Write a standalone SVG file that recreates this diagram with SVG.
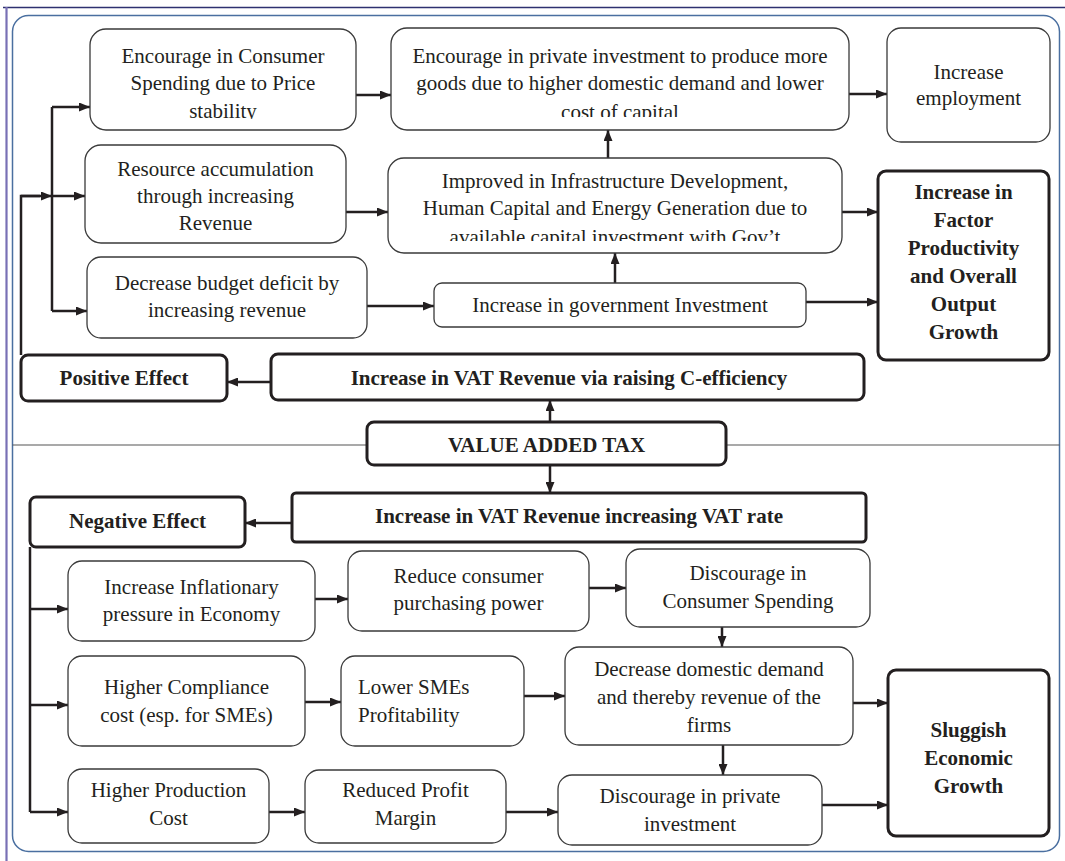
<svg xmlns="http://www.w3.org/2000/svg" width="1065" height="861" viewBox="0 0 1065 861">
<defs>
<marker id="ah" markerUnits="userSpaceOnUse" markerWidth="11" markerHeight="9" refX="11" refY="4.5" orient="auto">
<path d="M0,0 L11,4.5 L0,9 z" fill="#231f20"/>
</marker>
<clipPath id="clipA"><rect x="90" y="29" width="266" height="90"/></clipPath>
<clipPath id="clipB"><rect x="391" y="28" width="458" height="89"/></clipPath>
<clipPath id="clipE"><rect x="388" y="158" width="454" height="83"/></clipPath>
</defs>
<style>
.n{fill:#fff;stroke:#3a3a3a;stroke-width:1.3}
.b{fill:#fff;stroke:#231f20;stroke-width:3}
.t{font-family:"Liberation Serif","Times New Roman",serif;font-size:21px;fill:#231f20;text-anchor:middle}
.tb{font-family:"Liberation Serif","Times New Roman",serif;font-size:21px;font-weight:bold;fill:#231f20;text-anchor:middle}
.c{fill:none;stroke:#231f20;stroke-width:2.5}
.a{fill:none;stroke:#231f20;stroke-width:2.5;marker-end:url(#ah)}
</style>
<rect width="1065" height="861" fill="#fff"/>
<g id="frame">
<line x1="3" y1="7.5" x2="1065" y2="7.5" stroke="#2e3170" stroke-width="1.6"/>
<line x1="6.5" y1="7" x2="6.5" y2="861" stroke="#7870b5" stroke-width="2.2"/>
<rect x="12.5" y="15.5" width="1047" height="836" rx="16" fill="none" stroke="#4a6fa0" stroke-width="1.5"/>
<line x1="12.5" y1="445" x2="367" y2="445" stroke="#555" stroke-width="1.2"/>
<line x1="726" y1="445" x2="1059.5" y2="445" stroke="#555" stroke-width="1.2"/>
</g>
<g id="connectors">
<path class="c" d="M21,355 V196 H40"/>
<path class="a" d="M21,196 H52"/>
<path class="c" d="M52,107 V311"/>
<path class="a" d="M52,107 H90"/>
<path class="a" d="M52,196 H85"/>
<path class="a" d="M52,311 H87"/>
<path class="a" d="M356,95 H391"/>
<path class="a" d="M849,94 H887"/>
<path class="a" d="M608,158 V130"/>
<path class="a" d="M346,212 H388"/>
<path class="a" d="M842,212 H878"/>
<path class="a" d="M615,283 V253"/>
<path class="a" d="M367,306 H434"/>
<path class="a" d="M806,302 H878"/>
<path class="a" d="M271,382 H227"/>
<path class="a" d="M550,422 V400"/>
<path class="a" d="M550,465 V493"/>
<path class="a" d="M292,523 H245"/>
<path class="c" d="M30,547 V812"/>
<path class="a" d="M30,609 H68"/>
<path class="a" d="M315,599 H348"/>
<path class="a" d="M589,588 H626"/>
<path class="a" d="M722,627 V647"/>
<path class="a" d="M30,705 H68"/>
<path class="a" d="M305,702 H341"/>
<path class="a" d="M524,696 H565"/>
<path class="a" d="M853,703 H888"/>
<path class="a" d="M723,745 V775"/>
<path class="a" d="M30,812 H68"/>
<path class="a" d="M269,812 H305"/>
<path class="a" d="M506,812 H558"/>
<path class="a" d="M822,805 H888"/>
</g>
<g id="nodeA">
<rect class="n" x="90" y="29" width="266" height="101" rx="16"/>
<g clip-path="url(#clipA)">
<text class="t" x="223" y="63">Encourage in Consumer</text>
<text class="t" x="223" y="90">Spending due to Price</text>
<text class="t" x="223" y="118">stability</text>
</g>
</g>
<g id="nodeB">
<rect class="n" x="391" y="28" width="458" height="102" rx="16"/>
<g clip-path="url(#clipB)">
<text class="t" x="620" y="63">Encourage in private investment to produce more</text>
<text class="t" x="620" y="90">goods due to higher domestic demand and lower</text>
<text class="t" x="620" y="119">cost of capital</text>
</g>
</g>
<g id="nodeC">
<rect class="n" x="887" y="28" width="163" height="114" rx="14"/>
<text class="t" x="968.5" y="79">Increase</text>
<text class="t" x="968.5" y="105">employment</text>
</g>
<g id="nodeD">
<rect class="n" x="85" y="145" width="261" height="98" rx="16"/>
<text class="t" x="215.5" y="176">Resource accumulation</text>
<text class="t" x="215.5" y="203">through increasing</text>
<text class="t" x="215.5" y="230">Revenue</text>
</g>
<g id="nodeE">
<rect class="n" x="388" y="158" width="454" height="95" rx="16"/>
<g clip-path="url(#clipE)">
<text class="t" x="615" y="188">Improved in Infrastructure Development,</text>
<text class="t" x="615" y="215">Human Capital and Energy Generation due to</text>
<text class="t" x="615" y="244">available capital investment with Gov’t</text>
</g>
</g>
<g id="nodeF">
<rect class="n" x="87" y="257" width="280" height="81" rx="14"/>
<text class="t" x="227" y="290">Decrease budget deficit by</text>
<text class="t" x="227" y="317">increasing revenue</text>
</g>
<g id="nodeG">
<rect class="n" x="434" y="283" width="372" height="44" rx="8"/>
<text class="t" x="620" y="312">Increase in government Investment</text>
</g>
<g id="nodeH">
<rect class="b" x="878" y="171" width="171" height="189" rx="8"/>
<text class="tb" x="963.5" y="199">Increase in</text>
<text class="tb" x="963.5" y="227">Factor</text>
<text class="tb" x="963.5" y="255">Productivity</text>
<text class="tb" x="963.5" y="283">and Overall</text>
<text class="tb" x="963.5" y="311">Output</text>
<text class="tb" x="963.5" y="339">Growth</text>
</g>
<g id="nodePositive">
<rect class="b" x="21" y="355" width="206" height="46" rx="7"/>
<text class="tb" x="124" y="385">Positive Effect</text>
</g>
<g id="nodeVATC">
<rect class="b" x="271" y="354" width="593" height="46" rx="7"/>
<text class="tb" x="569" y="385">Increase in VAT Revenue via raising C-efficiency</text>
</g>
<g id="nodeVAT">
<rect class="b" x="367" y="422" width="359" height="43" rx="7"/>
<text class="tb" x="546.5" y="452">VALUE ADDED TAX</text>
</g>
<g id="nodeRate">
<rect class="b" x="292" y="493" width="574" height="49" rx="4"/>
<text class="tb" x="579" y="523">Increase in VAT Revenue increasing VAT rate</text>
</g>
<g id="nodeNegative">
<rect class="b" x="30" y="497" width="215" height="50" rx="6"/>
<text class="tb" x="137.5" y="528">Negative Effect</text>
</g>
<g id="nodeI">
<rect class="n" x="68" y="561" width="247" height="80" rx="14"/>
<text class="t" x="191.5" y="594">Increase Inflationary</text>
<text class="t" x="191.5" y="621">pressure in Economy</text>
</g>
<g id="nodeJ">
<rect class="n" x="348" y="551" width="241" height="80" rx="14"/>
<text class="t" x="468.5" y="583">Reduce consumer</text>
<text class="t" x="468.5" y="610">purchasing power</text>
</g>
<g id="nodeK">
<rect class="n" x="626" y="549" width="244" height="78" rx="14"/>
<text class="t" x="748" y="580">Discourage in</text>
<text class="t" x="748" y="608">Consumer Spending</text>
</g>
<g id="nodeL">
<rect class="n" x="565" y="647" width="288" height="98" rx="14"/>
<text class="t" x="709" y="676">Decrease domestic demand</text>
<text class="t" x="709" y="704">and thereby revenue of the</text>
<text class="t" x="709" y="732">firms</text>
</g>
<g id="nodeM">
<rect class="n" x="68" y="656" width="237" height="90" rx="14"/>
<text class="t" x="186.5" y="694">Higher Compliance</text>
<text class="t" x="186.5" y="722">cost (esp. for SMEs)</text>
</g>
<g id="nodeN">
<rect class="n" x="341" y="656" width="183" height="90" rx="14"/>
<text class="t" x="358" y="694" style="text-anchor:start">Lower SMEs</text>
<text class="t" x="358" y="722" style="text-anchor:start">Profitability</text>
</g>
<g id="nodeSluggish">
<rect class="b" x="888" y="670" width="161" height="166" rx="8"/>
<text class="tb" x="968.5" y="737">Sluggish</text>
<text class="tb" x="968.5" y="765">Economic</text>
<text class="tb" x="968.5" y="793">Growth</text>
</g>
<g id="nodeP">
<rect class="n" x="68" y="769" width="201" height="74" rx="14"/>
<text class="t" x="168.5" y="797">Higher Production</text>
<text class="t" x="168.5" y="825">Cost</text>
</g>
<g id="nodeQ">
<rect class="n" x="305" y="770" width="201" height="73" rx="14"/>
<text class="t" x="405.5" y="797">Reduced Profit</text>
<text class="t" x="405.5" y="825">Margin</text>
</g>
<g id="nodeR">
<rect class="n" x="558" y="775" width="264" height="70" rx="14"/>
<text class="t" x="690" y="803">Discourage in private</text>
<text class="t" x="690" y="831">investment</text>
</g>
</svg>
